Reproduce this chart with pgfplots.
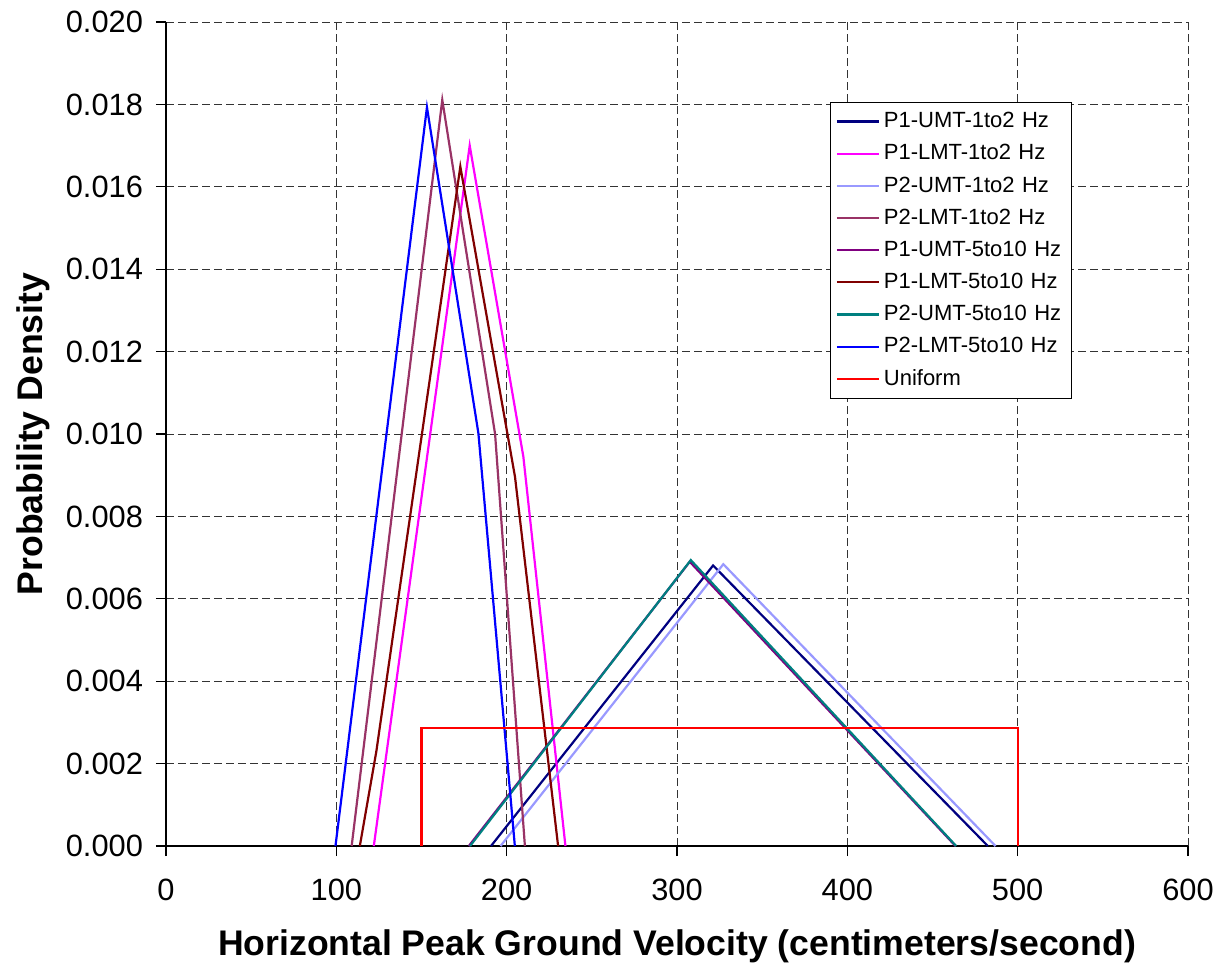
\documentclass[border=0pt]{standalone}
\usepackage{fontspec}
\setmainfont{Liberation Sans}
\usepackage{pgfplots}
\pgfplotsset{compat=1.18}
\definecolor{cNavy}{RGB}{0,0,128}
\definecolor{cMag}{RGB}{255,0,255}
\definecolor{cLight}{RGB}{153,153,255}
\definecolor{cMauve}{RGB}{153,51,102}
\definecolor{cPurple}{RGB}{128,0,128}
\definecolor{cDRed}{RGB}{128,0,0}
\definecolor{cTeal}{RGB}{0,128,128}
\definecolor{cBlue}{RGB}{0,0,255}
\definecolor{cRed}{RGB}{255,0,0}
\begin{document}
\begin{tikzpicture}
\begin{axis}[
  scale only axis,
  width=511pt, height=412pt,
  xmin=0, xmax=600, ymin=0, ymax=0.020,
  xtick={0,100,...,600},
  ytick={0,0.002,...,0.0201},
  axis x line*=bottom, axis y line*=left,
  axis line style={-, black, line width=0.6pt},
  tick align=outside,
  major tick length=5pt,
  tick style={black, line width=0.6pt},
  grid=major,
  major grid style={dashed, dash pattern=on 4pt off 2pt, black!80, line width=0.5pt},
  /pgf/number format/assume math mode=true,
  yticklabel style={/pgf/number format/fixed, /pgf/number format/precision=3, /pgf/number format/fixed zerofill},
  scaled y ticks=false,
  ticklabel style={font=\fontsize{15.4}{17}\selectfont},
  xticklabel style={yshift=-8pt},
  yticklabel style={xshift=-3pt},
  xlabel={\textbf{Horizontal Peak Ground Velocity (centimeters/second)}},
  ylabel={\textbf{Probability Density}},
  label style={font=\fontsize{17.8}{20}\selectfont},
  xlabel style={yshift=-7.5pt},
  ylabel style={yshift=1pt},
  legend style={at={(0.65,0.903)}, anchor=north west, draw=black, fill=white,
    font=\fontsize{11}{13}\selectfont, row sep=2.9pt, inner xsep=2.5pt, inner ysep=3pt,
    text width=89pt},
  legend cell align=left,
  legend image code/.code={\draw[#1] (0pt,0pt) -- (21pt,0pt);},
  every axis plot/.append style={line width=1.1pt},
]
\addplot[cNavy] coordinates {(190.8,0) (321.2,0.00681) (482.5,0)};
\addlegendentry{P1-UMT-1to2 Hz}
\addplot[cMag] coordinates {(122,0) (178.3,0.0170) (209.8,0.00945) (234.5,0)};
\addlegendentry{P1-LMT-1to2 Hz}
\addplot[cLight] coordinates {(196.4,0) (327.2,0.00684) (487,0)};
\addlegendentry{P2-UMT-1to2 Hz}
\addplot[cMauve] coordinates {(109,0) (162.2,0.01811) (193.2,0.0100) (210.7,0)};
\addlegendentry{P2-LMT-1to2 Hz}
\addplot[cPurple] coordinates {(177.8,0) (307.5,0.00690) (463.5,0)};
\addlegendentry{P1-UMT-5to10 Hz}
\addplot[cDRed] coordinates {(113.8,0) (123.5,0.0023) (172.8,0.01649) (204.9,0.00896) (230.2,0)};
\addlegendentry{P1-LMT-5to10 Hz}
\addplot[cTeal] coordinates {(178.5,0) (308.1,0.00694) (463.9,0)};
\addlegendentry{P2-UMT-5to10 Hz}
\addplot[cBlue] coordinates {(99.5,0) (153.2,0.01793) (183.4,0.01002) (204.8,0)};
\addlegendentry{P2-LMT-5to10 Hz}
\addplot[cRed] coordinates {(150,0) (150,0.002857) (500,0.002857) (500,0)};
\addlegendentry{Uniform}
\end{axis}
\pgfresetboundingbox
\path[use as bounding box] ([xshift=-83pt,yshift=-60pt]current axis.south west) rectangle ([xshift=15pt,yshift=11pt]current axis.north east);
\end{tikzpicture}
\end{document}
